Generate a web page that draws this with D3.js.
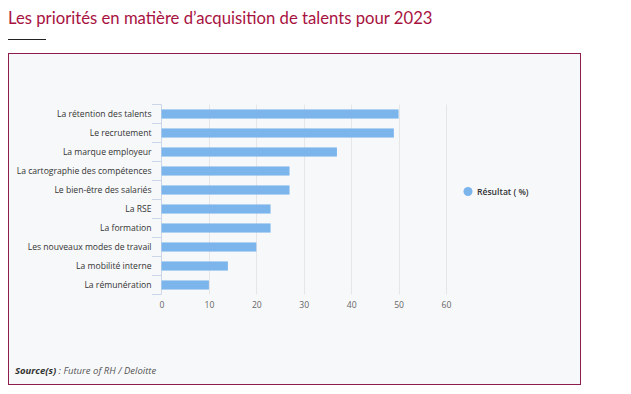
<!DOCTYPE html>
<html><head><meta charset="utf-8">
<script src="https://cdn.jsdelivr.net/npm/d3@7"></script>
<style>
html,body{margin:0;padding:0;background:#fff;}
svg{display:block;}
</style></head>
<body>
<svg id="chart" width="631" height="394"></svg>
<script>
const categories = ["La rétention des talents","Le recrutement","La marque employeur","La cartographie des compétences","Le bien-être des salariés","La RSE","La formation","Les nouveaux modes de travail","La mobilité interne","La rémunération"];
const values = [50,49,37,27,27,23,23,20,14,10];
const xTicks = [0,10,20,30,40,50,60];
const seriesName = "Résultat ( %)";
const title = "Les priorités en matière d’acquisition de talents pour 2023";

const svg = d3.select("#chart");
const font = "'Open Sans', sans-serif";

svg.append("text").attr("x",8).attr("y",24).attr("fill","#a8123f")
  .attr("font-family","Lato, 'Open Sans', sans-serif").attr("font-size",16.7).text(title);
svg.append("line").attr("x1",8).attr("x2",46).attr("y1",39.5).attr("y2",39.5).attr("stroke","#222").attr("stroke-width",1);

svg.append("rect").attr("x",8.5).attr("y",53.5).attr("width",572).attr("height",331)
  .attr("fill","#f7f8fa").attr("stroke","#8c1d4c").attr("stroke-width",1);

const x = d3.scaleLinear().domain([0,60]).range([161.5,446]);
const y = d3.scaleBand().domain(categories).range([104.5,294.5]).paddingInner(0.52).paddingOuter(0.26);

const g = svg.append("g");
// gridlines
g.selectAll("line.grid").data(xTicks.slice(1)).join("line")
  .attr("x1",d=>Math.round(x(d))+0.5).attr("x2",d=>Math.round(x(d))+0.5)
  .attr("y1",104.5).attr("y2",294.5).attr("stroke","#e6e6e6");
// category axis line
g.append("line").attr("x1",161.5).attr("x2",161.5).attr("y1",104.5).attr("y2",294.5).attr("stroke","#ccd6eb");
// category ticks (between categories)
const tickYs = d3.range(categories.length+1).map(i => 104.5 + i*(190/categories.length));
g.selectAll("line.ctick").data(tickYs).join("line")
  .attr("x1",152).attr("x2",161.5).attr("y1",d=>d).attr("y2",d=>d).attr("stroke","#ccd6eb");

// bars
g.selectAll("rect.bar").data(values).join("rect")
  .attr("x",x(0)).attr("y",(d,i)=>y(categories[i]))
  .attr("width",d=>x(d)-x(0)).attr("height",y.bandwidth())
  .attr("fill","#7cb5ec");

// y axis labels
const yAxis = d3.axisLeft(y).tickSize(0).tickPadding(10);
const ya = svg.append("g").attr("transform","translate(161.5,0)").call(yAxis);
ya.select(".domain").remove();
ya.selectAll("text").attr("font-family",font).attr("font-size",8.6).attr("fill","#333");

// x axis labels
const xAxis = d3.axisBottom(x).tickValues(xTicks).tickSize(0).tickPadding(7);
const xa = svg.append("g").attr("transform","translate(0,294.5)").call(xAxis);
xa.select(".domain").remove();
xa.selectAll("text").attr("font-family",font).attr("font-size",8.6).attr("fill","#666");

// legend
svg.append("circle").attr("cx",468).attr("cy",191.5).attr("r",4.5).attr("fill","#7cb5ec");
svg.append("text").attr("x",477).attr("y",194.5).attr("font-family",font).attr("font-size",8.6)
  .attr("font-weight",600).attr("fill","#333").text(seriesName);

// source
const src = svg.append("text").attr("x",15).attr("y",374).attr("font-family",font).attr("font-size",9.5)
  .attr("font-style","italic").attr("fill","#555");
src.append("tspan").attr("font-weight",700).attr("fill","#333").text("Source(s)");
src.append("tspan").text(" : Future of RH / Deloitte");
</script>
</body></html>
